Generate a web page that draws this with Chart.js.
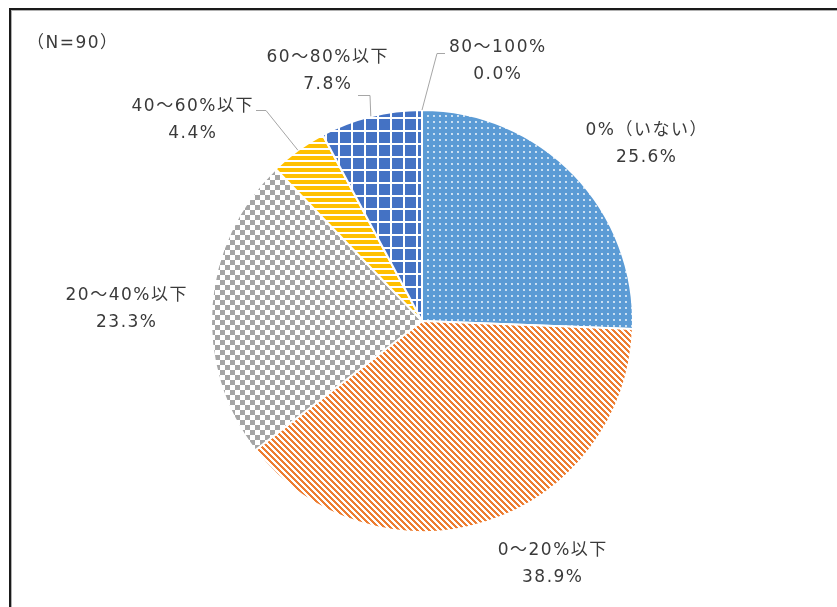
<!DOCTYPE html>
<html lang="ja">
<head>
<meta charset="utf-8">
<title>割合の分布</title>
<script src="https://cdn.jsdelivr.net/npm/chart.js@4/dist/chart.umd.min.js"></script>
<style>
  html, body { margin: 0; padding: 0; background: #fff; }
  #wrap { position: relative; width: 837px; height: 607px; }
  canvas { display: block; }
</style>
</head>
<body>
<div id="wrap"><canvas id="chart" width="837" height="607"></canvas></div>
<script>
// ---- data ----
const categories = ['0%（いない）', '0～20%以下', '20～40%以下', '40～60%以下', '60～80%以下', '80～100%'];
const shares = [25.6, 38.9, 23.3, 4.4, 7.8, 0.0];
const sampleNote = '（N=90）';

// ---- styling ----
const FONT = '17px "DejaVu Sans", "Noto Sans CJK JP", sans-serif';
const TEXT_COLOR = '#3a3a3a';
const LEADER_COLOR = '#A6A6A6';
const LINE_GAP = 27;
const SPACING = 1.5;
// label block centre, relative to the pie centre
const labelOffsets = [[224, -177], [130, 243], [-296, -12], [-230, -201], [-95, -250], [75, -260]];
// leader lines: [startDx, startDy, elbowDx, elbowDy] relative to the label centre
const leaders = [null, null, null, [64, -10, 74, -10], [31, 24, 43, 24], [-52, -8, -60, -8]];

const canvas = document.getElementById('chart');
const ctx = canvas.getContext('2d');

function hex(c) {
  return [parseInt(c.slice(1, 3), 16), parseInt(c.slice(3, 5), 16), parseInt(c.slice(5, 7), 16)];
}
// builds a repeating pattern from a per-pixel colour rule
function pixelPattern(w, h, rule) {
  const t = document.createElement('canvas');
  t.width = w; t.height = h;
  const g = t.getContext('2d');
  const img = g.createImageData(w, h);
  for (let y = 0; y < h; y++) {
    for (let x = 0; x < w; x++) {
      const c = rule(x, y);
      const i = (y * w + x) * 4;
      img.data[i] = c[0]; img.data[i + 1] = c[1]; img.data[i + 2] = c[2]; img.data[i + 3] = 255;
    }
  }
  g.putImageData(img, 0, 0);
  return ctx.createPattern(t, 'repeat');
}
const WHITE = [255, 255, 255];
const orange = hex('#ED7D31'), gray = hex('#A5A5A5'),
      yellow = hex('#FFC000'), navy = hex('#4472C4'), green = hex('#70AD47');

function dotPattern() {
  const t = document.createElement('canvas');
  t.width = 6; t.height = 6;
  const g = t.getContext('2d');
  g.fillStyle = '#5B9BD5';
  g.fillRect(0, 0, 6, 6);
  g.fillStyle = '#ffffff';
  g.beginPath();
  g.arc(2, 2, 0.9, 0, Math.PI * 2);
  g.fill();
  return ctx.createPattern(t, 'repeat');
}

const fills = [
  dotPattern(),
  pixelPattern(6, 6, (x, y) => (((x - y) % 6) + 6) % 6 < 3 ? orange : WHITE),
  pixelPattern(10, 10, (x, y) => ((Math.floor(x / 5) + Math.floor(y / 5)) % 2) ? WHITE : gray),
  pixelPattern(6, 6, (x, y) => (y % 6) < 4 ? yellow : WHITE),
  pixelPattern(13, 13, (x, y) => (x % 13 < 2 || y % 13 < 2) ? WHITE : navy),
  pixelPattern(6, 6, () => green)
];

// frame, note and slice labels with leader lines
const decorations = {
  id: 'decorations',
  beforeDraw(chart) {
    const c = chart.ctx;
    c.save();
    c.fillStyle = '#ffffff';
    c.fillRect(0, 0, chart.width, chart.height);
    c.fillStyle = '#1a1a1a';
    c.fillRect(9, 8, chart.width - 9, 2);
    c.fillRect(9, 8, 2, chart.height - 8);
    c.fillStyle = '#b0b0b0';
    c.fillRect(11, 10, chart.width - 11, 1);
    c.fillRect(11, 10, 1, chart.height - 10);
    c.restore();
  },
  afterDatasetsDraw(chart) {
    const c = chart.ctx;
    const meta = chart.getDatasetMeta(0);
    c.save();
    c.font = FONT;
    c.fillStyle = TEXT_COLOR;
    c.textBaseline = 'middle';
    c.letterSpacing = SPACING + 'px';
    c.textAlign = 'left';
    c.fillText(sampleNote, 27, 44);
    c.textAlign = 'center';
    meta.data.forEach((arc, i) => {
      const p = arc.getProps(['x', 'y', 'startAngle', 'endAngle', 'outerRadius'], true);
      const mid = (p.startAngle + p.endAngle) / 2;
      const lx = p.x + labelOffsets[i][0];
      const ly = p.y + labelOffsets[i][1];
      const ld = leaders[i];
      if (ld) {
        c.strokeStyle = LEADER_COLOR;
        c.lineWidth = 1;
        c.beginPath();
        c.moveTo(lx + ld[0], ly + ld[1] + 0.5);
        c.lineTo(lx + ld[2], ly + ld[3] + 0.5);
        c.lineTo(p.x + Math.cos(mid) * p.outerRadius, p.y + Math.sin(mid) * p.outerRadius);
        c.stroke();
      }
      c.fillText(categories[i], lx + SPACING / 2, ly - LINE_GAP / 2);
      c.fillText(shares[i].toFixed(1) + '%', lx + SPACING / 2, ly + LINE_GAP / 2);
    });
    c.restore();
  }
};

new Chart(ctx, {
  type: 'pie',
  data: {
    labels: categories,
    datasets: [{
      data: shares,
      backgroundColor: fills,
      borderColor: '#ffffff',
      borderWidth: 2
    }]
  },
  options: {
    responsive: false,
    animation: false,
    events: [],
    radius: 211,
    layout: { padding: { left: 7, right: 0, top: 35, bottom: 0 } },
    plugins: {
      legend: { display: false },
      tooltip: { enabled: false }
    }
  },
  plugins: [decorations]
});
</script>
</body>
</html>
